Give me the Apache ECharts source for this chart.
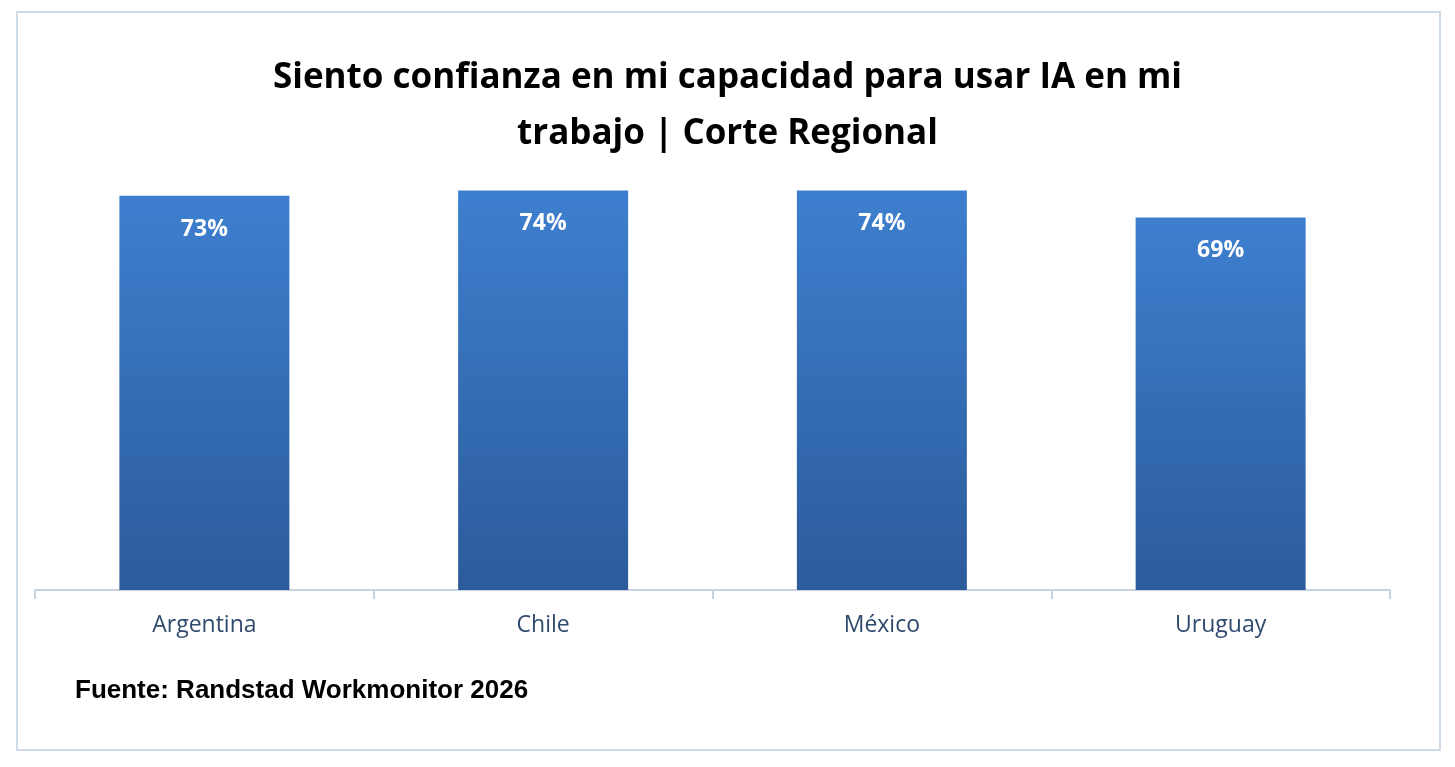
<!DOCTYPE html>
<html>
<head>
<meta charset="utf-8">
<script src="https://cdn.jsdelivr.net/npm/echarts@6/dist/echarts.min.js"></script>
<style>
  html, body { margin: 0; padding: 0; background: #fff; }
  #chart { width: 1455px; height: 767px; }
</style>
</head>
<body>
<div id="chart"></div>
<script>
// datos del gráfico
var paises = ['Argentina', 'Chile', 'México', 'Uruguay'];
var valores = [73, 74, 74, 69];

var chart = echarts.init(document.getElementById('chart'));

var option = {
  animation: false,
  title: {
    text: 'Siento confianza en mi capacidad para usar IA en mi\ntrabajo | Corte Regional',
    left: 'center',
    top: 45,
    textStyle: {
      fontFamily: 'Open Sans',
      fontWeight: 'bold',
      fontSize: 35,
      lineHeight: 56,
      color: '#000'
    }
  },
  graphic: [{
    type: 'rect',
    shape: { x: 17, y: 12, width: 1423, height: 738 },
    style: { fill: 'none', stroke: '#cfdbe8', lineWidth: 2 }
  }, {
    type: 'text',
    left: 75,
    top: 678,
    style: {
      text: 'Fuente: Randstad Workmonitor 2026',
      font: 'bold 26px "Liberation Sans"',
      fill: '#000'
    }
  }],
  grid: {
    left: 35,
    right: 65,
    top: 50,
    height: 540
  },
  xAxis: {
    type: 'category',
    data: paises,
    axisLine: { lineStyle: { color: '#c9d3df', width: 2 } },
    axisTick: { show: true, length: 9, lineStyle: { color: '#c9d3df', width: 2 } },
    axisLabel: {
      margin: 24,
      fontFamily: 'Open Sans',
      fontSize: 23,
      color: '#2f4a6d'
    }
  },
  yAxis: {
    type: 'value',
    min: 0,
    max: 100,
    show: false
  },
  series: [{
    type: 'bar',
    data: valores,
    barWidth: 170,
    itemStyle: {
      color: new echarts.graphic.LinearGradient(0, 0, 0, 1, [
        { offset: 0, color: '#3d7fcf' },
        { offset: 1, color: '#2c5b9b' }
      ])
    },
    label: {
      show: true,
      position: 'insideTop',
      distance: 22,
      formatter: '{c}%',
      fontFamily: 'Open Sans',
      fontWeight: 'bold',
      fontSize: 23,
      color: '#fff'
    }
  }]
};

chart.setOption(option);
</script>
</body>
</html>
